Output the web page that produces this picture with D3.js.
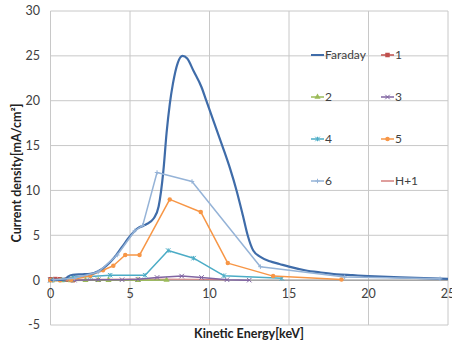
<!DOCTYPE html>
<html>
<head>
<meta charset="utf-8">
<script src="https://cdn.jsdelivr.net/npm/d3@7"></script>
<style>
  html, body { margin: 0; padding: 0; background: #fff; }
  svg { display: block; font-family: Lato, 'Open Sans', sans-serif; }
</style>
</head>
<body>
<svg id="chart" width="452" height="345"></svg>
<script>
// values: [keV, mA/cm2]
const faraday = [[0, 0.02], [0.5, 0.02], [0.9, 0.05], [1.1, 0.4], [1.4, 0.6], [2.0, 0.65], [2.5, 0.7],
  [3.0, 1.0], [3.5, 1.6], [4.0, 2.5], [4.5, 3.7], [5.0, 4.9], [5.5, 5.8], [6.0, 6.2], [6.5, 6.9],
  [6.8, 8.2], [7.1, 12.2], [7.3, 16.4], [7.5, 19.6], [7.7, 21.9], [8.0, 24.2], [8.3, 25.0], [8.6, 24.7],
  [9.0, 23.3], [9.5, 21.5], [9.8, 20.0], [10.3, 17.5], [10.8, 15.0], [11.3, 12.4], [11.7, 10.0],
  [12.1, 7.2], [12.4, 5.0], [12.75, 3.3], [13.2, 2.6], [13.8, 2.1], [14.4, 1.8], [15, 1.5], [16, 1.1],
  [17, 0.85], [18, 0.65], [19, 0.55], [20, 0.45], [22, 0.3], [25, 0.15]]
const s1 = [[0, 0.1], [0.3, 0.12], [0.6, 0.1], [1.0, 0.05], [1.4, 0.0]]
const s2 = [[0.1, -0.05], [0.7, -0.05], [1.3, -0.05], [2.2, -0.02], [3.0, 0], [3.65, 0], [5.5, 0], [7.3, 0.02]]
const s3 = [[0, 0], [1.5, 0], [3, 0.05], [4.5, 0.05], [5.5, 0.1], [6.7, 0.3], [8.25, 0.45], [9.5, 0.3], [11.1, 0.05], [12.5, 0]]
const s4 = [[0, 0], [0.8, 0.05], [1.4, 0.35], [2.5, 0.4], [3.75, 0.55], [5.95, 0.55], [7.4, 3.3], [9.0, 2.45], [10.9, 0.5], [14.55, 0.2]]
const s5 = [[0, 0], [0.6, 0], [1.3, 0.05], [2.5, 0.5], [3.3, 1.1], [3.95, 1.6], [4.7, 2.8], [5.6, 2.8], [7.5, 9.0], [9.45, 7.6], [11.15, 1.9], [14.0, 0.45], [18.3, 0.08]]
const s6 = [[0.2, 0.05], [1.5, 0.2], [3.0, 0.9], [4.2, 2.8], [5.3, 5.5], [5.8, 6.1], [6.7, 12.0], [8.9, 11.0], [13.2, 1.5], [18.5, 0.35], [24.5, 0.15]]
const h1 = [[0, 0.1], [3, 0.1], [6, 0.12], [9, 0.1], [11, 0.05]]

const xTicks = [0, 5, 10, 15, 20, 25]
const yTicks = [-5, 0, 5, 10, 15, 20, 25, 30]

const series = [
  { name: 'Faraday', data: faraday, color: '#3F6CA9', width: 2.2, marker: null },
  { name: '1', data: s1, color: '#C0504D', width: 1.5, marker: 'square' },
  { name: '2', data: s2, color: '#9BBB59', width: 1.5, marker: 'triangle' },
  { name: '3', data: s3, color: '#8064A2', width: 1.5, marker: 'x' },
  { name: '4', data: s4, color: '#4BACC6', width: 1.5, marker: 'star' },
  { name: '5', data: s5, color: '#F79646', width: 1.5, marker: 'circle' },
  { name: '6', data: s6, color: '#95B3D7', width: 1.5, marker: 'cross' },
  { name: 'H+1', data: h1, color: '#D47F7D', width: 1.2, marker: null },
]

const svg = d3.select('#chart')
const x = d3.scaleLinear().domain([0, 25]).range([50.5, 448])
const y = d3.scaleLinear().domain([-5, 30]).range([325, 11])

// grid
const grid = svg.append('g').attr('stroke', '#c8c8c8').attr('stroke-width', 1)
grid.selectAll('.gx').data(xTicks).join('line')
  .attr('x1', (d) => x(d)).attr('x2', (d) => x(d)).attr('y1', y(30)).attr('y2', y(-5))
grid.selectAll('.gy').data(yTicks).join('line')
  .attr('y1', (d) => y(d)).attr('y2', (d) => y(d)).attr('x1', x(0)).attr('x2', x(25))
// zero axis line
svg.append('line').attr('x1', x(0)).attr('x2', x(25)).attr('y1', y(0)).attr('y2', y(0))
  .attr('stroke', '#8a8a8a')

// tick labels
svg.append('g').selectAll('text').data(yTicks).join('text')
  .attr('x', 40).attr('y', (d) => y(d)).attr('dy', '0.35em')
  .attr('text-anchor', 'end').attr('font-size', 12.5).attr('fill', '#404040')
  .text((d) => d)
svg.append('g').selectAll('text').data(xTicks).join('text')
  .attr('x', (d) => x(d)).attr('y', y(0) + 18)
  .attr('text-anchor', 'middle').attr('font-size', 12.5).attr('fill', '#404040')
  .text((d) => d)

// axis titles
svg.append('text').attr('x', 249).attr('y', 338).attr('text-anchor', 'middle')
  .attr('font-size', 12.5).attr('font-weight', 'bold').attr('fill', '#222').text('Kinetic Energy[keV]')
svg.append('text').attr('transform', 'translate(21,173) rotate(-90)').attr('text-anchor', 'middle')
  .attr('font-size', 12.5).attr('font-weight', 'bold').attr('fill', '#222')
  .text('Current density[mA/cm²]')

const line = d3.line().x((d) => x(d[0])).y((d) => y(d[1]))
const smooth = d3.line().x((d) => x(d[0])).y((d) => y(d[1])).curve(d3.curveMonotoneX)

function drawMarker(g, type, color, size) {
  const s = size
  switch (type) {
    case 'square':
      g.append('rect').attr('x', -s / 2).attr('y', -s / 2).attr('width', s).attr('height', s).attr('fill', color)
      break
    case 'triangle':
      g.append('path').attr('d', d3.symbol(d3.symbolTriangle, s * s * 0.8)).attr('fill', color)
      break
    case 'circle':
      g.append('circle').attr('r', s / 2).attr('fill', color)
      break
    case 'x':
      g.append('path').attr('d', `M${-s / 2},${-s / 2}L${s / 2},${s / 2}M${-s / 2},${s / 2}L${s / 2},${-s / 2}`)
        .attr('stroke', color).attr('stroke-width', 1)
      break
    case 'star':
      g.append('path').attr('d', `M${-s / 2},${-s / 2}L${s / 2},${s / 2}M${-s / 2},${s / 2}L${s / 2},${-s / 2}M0,${-s / 2}L0,${s / 2}`)
        .attr('stroke', color).attr('stroke-width', 1)
      break
    case 'cross':
      g.append('path').attr('d', `M${-s / 2},0L${s / 2},0M0,${-s / 2}L0,${s / 2}`)
        .attr('stroke', color).attr('stroke-width', 1)
      break
  }
}

// draw series, 6 lies above Faraday in the reference
const order = ['H+1', '1', '2', '3', '4', '5', 'Faraday', '6']
const plot = svg.append('g')
order.forEach((name) => {
  const s = series.find((d) => d.name === name)
  plot.append('path').datum(s.data).attr('d', s.name === 'Faraday' ? smooth : line)
    .attr('fill', 'none').attr('stroke', s.color).attr('stroke-width', s.width)
    .attr('stroke-linejoin', 'round')
  if (s.marker) {
    s.data.forEach((p) => {
      const g = plot.append('g').attr('transform', `translate(${x(p[0])},${y(p[1])})`)
      drawMarker(g, s.marker, s.color, 4.5)
    })
  }
})

// legend, two columns inside the plot
const legendX = [311, 381]
const legendY = [55, 97, 139, 181]
const legend = svg.append('g')
series.forEach((s, i) => {
  const g = legend.append('g').attr('transform', `translate(${legendX[i % 2]},${legendY[Math.floor(i / 2)]})`)
  g.append('line').attr('x1', 0).attr('x2', 13).attr('stroke', s.color).attr('stroke-width', s.name === 'Faraday' ? 2 : 1.5)
  if (s.marker) {
    const m = g.append('g').attr('transform', 'translate(6.5,0)')
    drawMarker(m, s.marker, s.color, 4.5)
  }
  g.append('text').attr('x', 14).attr('dy', '0.35em').attr('font-size', 12).attr('fill', '#404040').text(s.name)
})
</script>
</body>
</html>
